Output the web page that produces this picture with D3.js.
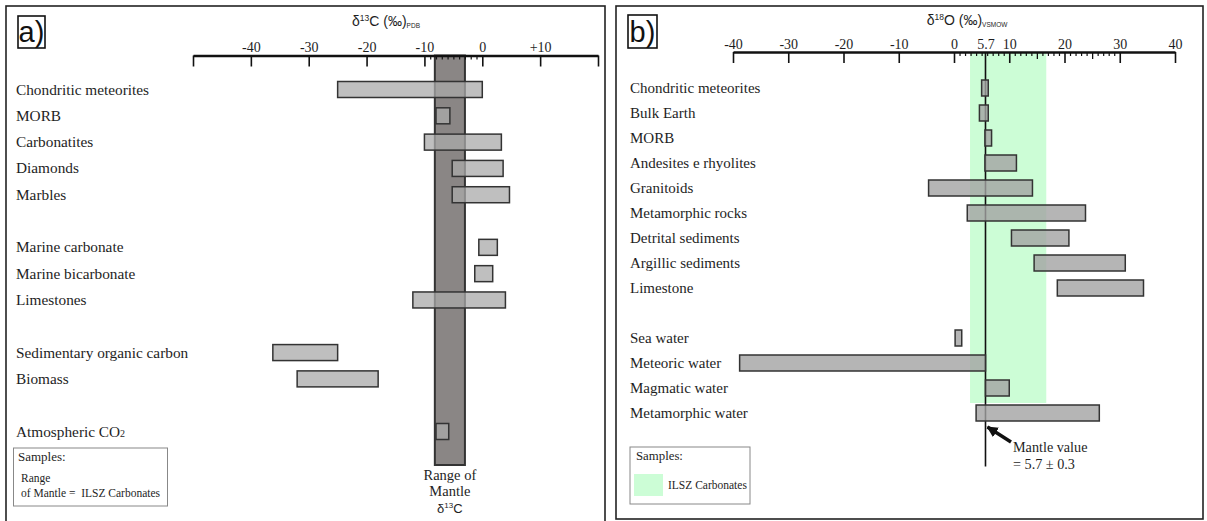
<!DOCTYPE html>
<html><head><meta charset="utf-8">
<script src="https://cdn.jsdelivr.net/npm/d3@7"></script>
<style>body{margin:0;background:#fff}svg{display:block}</style>
</head><body>
<svg id="chart" width="1207" height="521"></svg>
<script>
// ---------- DATA ----------
// Panel a: delta 13C (per mil, PDB)
const carbonCategories = ["Chondritic meteorites","MORB","Carbonatites","Diamonds","Marbles",
  "Marine carbonate","Marine bicarbonate","Limestones",
  "Sedimentary organic carbon","Biomass","Atmospheric CO"];
const carbonGroups = [0,0,0,0,0,1,1,1,2,2,3];
const carbonLow  = [-25, -8.0, -10.0, -5.2, -5.2, -0.6, -1.3, -12.0, -36.2, -32.0, -8.0];
const carbonHigh = [  0, -5.6,   3.3,  3.6,  4.7,  2.6,  1.8,   4.0, -25.0, -18.0, -5.8];
const carbonMantleRange = [-8.2, -3.0];
const carbonTicks = [-50,-40,-30,-20,-10,0,10,20];
const carbonTickLabels = [-40,-30,-20,-10,0,10];
const carbonMinorTicks = [-9,-8,-7,-6,-5,-4,-3,-2,-1];

// Panel b: delta 18O (per mil, VSMOW)
const oxygenCategories = ["Chondritic meteorites","Bulk Earth","MORB","Andesites e rhyolites","Granitoids",
  "Metamorphic rocks","Detrital sediments","Argillic sediments","Limestone",
  "Sea water","Meteoric water","Magmatic water","Metamorphic water"];
const oxygenGroups = [0,0,0,0,0,0,0,0,0,1,1,1,1];
const oxygenLow  = [5.0, 4.6, 5.6,  5.6, -4.6,  2.4, 10.4, 14.5, 18.7, 0.2, -38.8,  5.7,  4.0];
const oxygenHigh = [6.2, 6.2, 6.8, 11.3, 14.2, 23.8, 20.8, 31.0, 34.3, 1.4,   5.7, 10.0, 26.3];
const oxygenIlszRange = [2.9, 16.7];
const oxygenMantleValue = 5.7;
const oxygenTicks = [-40,-30,-20,-10,0,10,20,30,40];
const oxygenTickLabels = [-40,-30,-20,-10,0,5.7,10,20,30,40];
const oxygenMediumTicks = [15,25];
const oxygenMinorTicks = [1,2,3,4,5,6,7,8,9,11,12,13,14,16,17,18,19,21,22,23,24,26,27,28,29];

// ---------- DRAW ----------
const svg = d3.select("#chart");
const SERIF = "'Liberation Serif','Times New Roman',serif";
const SANS = "'Liberation Sans',Arial,sans-serif";
const INK = "#1e1e1e";

// panel frames
svg.append("rect").attr("x",6).attr("y",6).attr("width",599).attr("height",530)
  .attr("fill","none").attr("stroke","#222").attr("stroke-width",1.6);
svg.append("rect").attr("x",616).attr("y",6).attr("width",587).attr("height",513)
  .attr("fill","none").attr("stroke","#222").attr("stroke-width",1.6);

function panelTag(x,y,w,h,label){
  svg.append("rect").attr("x",x).attr("y",y).attr("width",w).attr("height",h)
    .attr("fill","none").attr("stroke","#111").attr("stroke-width",1.6);
  svg.append("text").attr("x",x+w/2).attr("y",y+h-6).attr("text-anchor","middle")
    .attr("font-family",SANS).attr("font-size",29).attr("fill","#111").text(label);
}
panelTag(18,16,27,32,"a)");
panelTag(628,15,29,33,"b)");

function title(cx, y, pre, sup, main, sub){
  const t = svg.append("text").attr("x",cx).attr("y",y).attr("text-anchor","middle")
    .attr("font-family",SANS).attr("font-size",14).attr("fill",INK);
  t.append("tspan").text(pre);
  t.append("tspan").attr("font-size",8.5).attr("dy",-5).text(sup);
  t.append("tspan").attr("dy",5).text(main);
  t.append("tspan").attr("font-size",6.5).attr("dy",2).text(sub);
}

// ===== Panel a =====
const xA = d3.scaleLinear().domain([-50,20]).range([193,598]);
const rowA = d3.scaleLinear().domain([0,13]).range([89.5,431.5]);
const axisYA = 55.5;
const barH = 16;

title(386, 26, "δ", "13", "C (‰)", "PDB");

// mantle band
svg.append("rect")
  .attr("x", xA(carbonMantleRange[0])).attr("y", axisYA)
  .attr("width", xA(carbonMantleRange[1]) - xA(carbonMantleRange[0]))
  .attr("height", 465 - axisYA)
  .attr("fill","#8a8685").attr("stroke","#333").attr("stroke-width",2);

const rowsA = carbonCategories.map((c,i)=>({c, lo:carbonLow[i], hi:carbonHigh[i], r:i+carbonGroups[i]}));
svg.append("g").selectAll("rect").data(rowsA).join("rect")
  .attr("x", d=>xA(d.lo)).attr("width", d=>xA(d.hi)-xA(d.lo))
  .attr("y", d=>rowA(d.r)-barH/2).attr("height", barH)
  .attr("fill","#a9a9a9").attr("fill-opacity",0.75)
  .attr("stroke","#333").attr("stroke-width",1.5);

const labA = svg.append("g").selectAll("text").data(rowsA).join("text")
  .attr("x",16).attr("y", d=>rowA(d.r)+5)
  .attr("font-family",SERIF).attr("font-size",15.3).attr("fill",INK)
  .text(d=>d.c);
labA.filter(d=>d.c==="Atmospheric CO").append("tspan").attr("font-size",10).text("2");

// axis a
const gA = svg.append("g").attr("transform",`translate(0,${axisYA})`);
gA.append("g").call(d3.axisBottom(xA).tickValues(carbonTicks).tickSize(11).tickSizeOuter(0).tickFormat(""))
  .call(g=>g.select(".domain").attr("stroke-width",2.6).attr("stroke","#111"))
  .call(g=>g.selectAll(".tick line").attr("stroke-width",1.6).attr("stroke","#111"));
gA.append("g").call(d3.axisBottom(xA).tickValues(carbonMinorTicks).tickSize(4).tickFormat(""))
  .call(g=>g.select(".domain").remove())
  .call(g=>g.selectAll(".tick line").attr("stroke-width",1.2).attr("stroke","#111"));
gA.append("g").call(d3.axisTop(xA).tickValues(carbonTickLabels).tickSize(0).tickPadding(4)
    .tickFormat(d=> d>0 ? "+"+d : String(d)))
  .call(g=>g.select(".domain").remove())
  .call(g=>g.selectAll("text").attr("font-family",SERIF).attr("font-size",14).attr("fill",INK));

// band caption
const capX = (xA(carbonMantleRange[0])+xA(carbonMantleRange[1]))/2;
[["Range of",480],["Mantle",496]].forEach(([t,y])=>{
  svg.append("text").attr("x",capX).attr("y",y).attr("text-anchor","middle")
    .attr("font-family",SERIF).attr("font-size",14.5).attr("fill",INK).text(t);
});
const cap3 = svg.append("text").attr("x",capX).attr("y",513).attr("text-anchor","middle")
  .attr("font-family",SANS).attr("font-size",13).attr("fill",INK);
cap3.append("tspan").text("δ");
cap3.append("tspan").attr("font-size",8).attr("dy",-5).text("13");
cap3.append("tspan").attr("dy",5).text("C");

// legend a
svg.append("rect").attr("x",13.5).attr("y",448).attr("width",154).attr("height",58)
  .attr("fill","#fff").attr("stroke","#888").attr("stroke-width",1);
svg.append("text").attr("x",18).attr("y",461).attr("font-family",SERIF).attr("font-size",13)
  .attr("fill",INK).text("Samples:");
svg.append("text").attr("x",21).attr("y",482).attr("font-family",SERIF).attr("font-size",11.5)
  .attr("fill",INK).text("Range");
svg.append("text").attr("x",21).attr("y",497).attr("font-family",SERIF).attr("font-size",11.5)
  .attr("fill",INK).style("white-space","pre").text("of Mantle =  ILSZ Carbonates");

// ===== Panel b =====
const xB = d3.scaleLinear().domain([-40,40]).range([733,1175]);
const rowB = d3.scaleLinear().domain([0,13]).range([88,413]);
const axisYB = 52;

title(967, 25, "δ", "18", "O (‰)", "VSMOW");

svg.append("rect")
  .attr("x", xB(oxygenIlszRange[0])).attr("y", axisYB)
  .attr("width", xB(oxygenIlszRange[1]) - xB(oxygenIlszRange[0]))
  .attr("height", 403 - axisYB).attr("fill","#ccfdd6");

svg.append("line").attr("x1",xB(oxygenMantleValue)).attr("x2",xB(oxygenMantleValue))
  .attr("y1",axisYB).attr("y2",466.5).attr("stroke","#111").attr("stroke-width",1.6);

const rowsB = oxygenCategories.map((c,i)=>({c, lo:oxygenLow[i], hi:oxygenHigh[i], r:i+oxygenGroups[i]}));
svg.append("g").selectAll("rect").data(rowsB).join("rect")
  .attr("x", d=>xB(d.lo)).attr("width", d=>xB(d.hi)-xB(d.lo))
  .attr("y", d=>rowB(d.r)-barH/2).attr("height", barH)
  .attr("fill","#a3a3a3").attr("fill-opacity",0.8)
  .attr("stroke","#333").attr("stroke-width",1.5);

svg.append("g").selectAll("text").data(rowsB).join("text")
  .attr("x",630).attr("y", d=>rowB(d.r)+5)
  .attr("font-family",SERIF).attr("font-size",15).attr("fill",INK)
  .text(d=>d.c);

const gB = svg.append("g").attr("transform",`translate(0,${axisYB})`);
gB.append("g").call(d3.axisBottom(xB).tickValues(oxygenTicks).tickSize(11).tickSizeOuter(0).tickFormat(""))
  .call(g=>g.select(".domain").attr("stroke-width",2.6).attr("stroke","#111"))
  .call(g=>g.selectAll(".tick line").attr("stroke-width",1.6).attr("stroke","#111"));
gB.append("g").call(d3.axisBottom(xB).tickValues(oxygenMediumTicks).tickSize(7).tickFormat(""))
  .call(g=>g.select(".domain").remove())
  .call(g=>g.selectAll(".tick line").attr("stroke-width",1.3).attr("stroke","#111"));
gB.append("g").call(d3.axisBottom(xB).tickValues(oxygenMinorTicks).tickSize(4).tickFormat(""))
  .call(g=>g.select(".domain").remove())
  .call(g=>g.selectAll(".tick line").attr("stroke-width",1.2).attr("stroke","#111"));
gB.append("g").call(d3.axisTop(xB).tickValues(oxygenTickLabels).tickSize(0).tickPadding(3)
    .tickFormat(d=>String(d)))
  .call(g=>g.select(".domain").remove())
  .call(g=>g.selectAll("text").attr("font-family",SERIF).attr("font-size",14).attr("fill",INK));

// arrow + mantle note
svg.append("defs").append("marker").attr("id","ah").attr("viewBox","0 0 10 10")
  .attr("refX",9).attr("refY",5).attr("markerWidth",3.2).attr("markerHeight",3.2)
  .attr("orient","auto").append("path").attr("d","M0,0L10,5L0,10Z").attr("fill","#111");
svg.append("line").attr("x1",1011).attr("y1",442).attr("x2",xB(oxygenMantleValue)+2).attr("y2",427)
  .attr("stroke","#111").attr("stroke-width",3.5).attr("marker-end","url(#ah)");
svg.append("text").attr("x",1013).attr("y",452).attr("font-family",SERIF).attr("font-size",14.2)
  .attr("fill",INK).text("Mantle value");
svg.append("text").attr("x",1013).attr("y",469).attr("font-family",SERIF).attr("font-size",14.2)
  .attr("fill",INK).text("= 5.7 ± 0.3");

// legend b
svg.append("rect").attr("x",630).attr("y",447).attr("width",120).attr("height",57)
  .attr("fill","#fff").attr("stroke","#888").attr("stroke-width",1);
svg.append("text").attr("x",636).attr("y",460).attr("font-family",SERIF).attr("font-size",12.8)
  .attr("fill",INK).text("Samples:");
svg.append("rect").attr("x",634).attr("y",474).attr("width",29).attr("height",22).attr("fill","#ccfdd6");
svg.append("text").attr("x",668).attr("y",489).attr("font-family",SERIF).attr("font-size",11.5)
  .attr("fill",INK).text("ILSZ Carbonates");
</script>
</body></html>
